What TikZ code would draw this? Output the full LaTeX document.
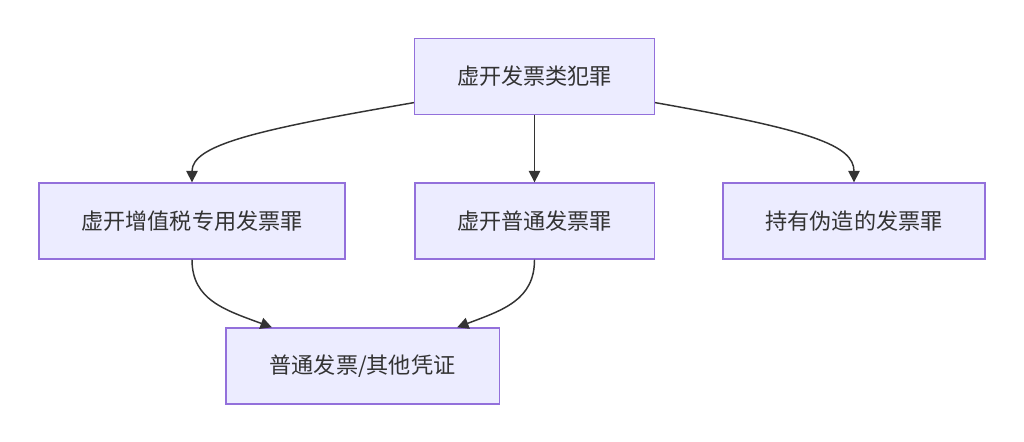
\documentclass[tikz,border=0pt]{standalone}
\usepackage{fontspec}
\setmainfont{Noto Sans CJK SC}
\usetikzlibrary{arrows.meta,calc}
\definecolor{nodefill}{HTML}{ECECFF}
\definecolor{nodeborder}{HTML}{9370DB}
\definecolor{linec}{HTML}{333333}
\tikzset{
  box/.style={draw=nodeborder, fill=nodefill, line width=1pt, minimum height=57pt, inner sep=0pt, text=linec, font=\fontsize{16.6}{19}\selectfont},
  conn/.style={draw=linec, line width=1.1pt, -{Triangle[length=8.5pt,width=8.5pt]}}
}
\begin{document}
\begin{tikzpicture}[x=0.75pt,y=-0.75pt]
\useasboundingbox (0,0) rectangle (1024,442);
\fill[white] (0,0) rectangle (1024,442);
\node[box, minimum width=180pt] (top) at (534.5,76.5) {虚开发票类犯罪};
\node[box, minimum width=229.5pt] (left) at (192,221) {虚开增值税专用发票罪};
\node[box, minimum width=179.5pt] (mid) at (534.5,221) {虚开普通发票罪};
\node[box, minimum width=196.5pt] (right) at (854,221) {持有伪造的发票罪};
\node[box, minimum width=205pt] (bot) at (362.5,366) {普通发票/其他凭证};
\draw[conn] ([yshift=9.4pt]top.south west) .. controls (255,130) and (192,145) .. (left.north);
\draw[conn] (top.south) -- (mid.north);
\draw[conn] ([yshift=9.4pt]top.south east) .. controls (810,130) and (854,145) .. (right.north);
\draw[conn] (left.south) .. controls (192,300) and (225,310) .. ([xshift=-68pt]bot.north);
\draw[conn] (mid.south) .. controls (534.5,300) and (503,310) .. ([xshift=71pt]bot.north);
\end{tikzpicture}
\end{document}
